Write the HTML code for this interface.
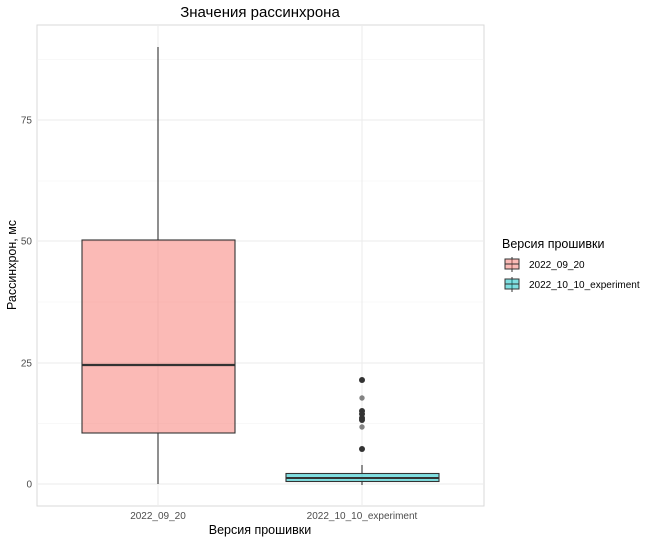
<!DOCTYPE html><html><head><style>body{margin:0;background:#fff}</style></head><body>
<svg width="650" height="541" xmlns="http://www.w3.org/2000/svg" font-family="Liberation Sans, DejaVu Sans, sans-serif">
<rect x="37" y="25" width="447" height="481" fill="#fff" stroke="#d9d9d9"/>
<g stroke="#f2f2f2" stroke-width="0.6">
<line x1="37" x2="484" y1="423.5" y2="423.5"/><line x1="37" x2="484" y1="302" y2="302"/><line x1="37" x2="484" y1="181" y2="181"/><line x1="37" x2="484" y1="59.5" y2="59.5"/>
</g>
<g stroke="#ebebeb" stroke-width="1">
<line x1="37" x2="484" y1="484" y2="484"/><line x1="37" x2="484" y1="363" y2="363"/><line x1="37" x2="484" y1="241" y2="241"/><line x1="37" x2="484" y1="120" y2="120"/>
<line x1="158" x2="158" y1="25" y2="506"/><line x1="362" x2="362" y1="25" y2="506"/>
</g>
<g stroke="#333" stroke-width="1.1">
<line x1="158" x2="158" y1="47" y2="240"/><line x1="158" x2="158" y1="433" y2="484"/>
<rect x="82" y="240" width="153" height="193" fill="#f8766d" fill-opacity="0.5"/>
<line x1="82" x2="235" y1="365" y2="365" stroke-width="2.2"/>
<line x1="362" x2="362" y1="465" y2="473"/><line x1="362" x2="362" y1="481" y2="485"/>
<rect x="286" y="473.5" width="153" height="8" fill="#00bfc4" fill-opacity="0.5"/>
<line x1="286" x2="439" y1="478" y2="478" stroke-width="2"/>
</g>
<g fill="#333">
<circle cx="362" cy="380" r="3" /><circle cx="362" cy="398" r="2.7" opacity="0.6"/><circle cx="362" cy="411" r="3"/><circle cx="362" cy="414" r="3"/><circle cx="362" cy="418" r="3"/><circle cx="362" cy="420" r="3"/><circle cx="362" cy="427" r="2.7" opacity="0.6"/><circle cx="362" cy="449" r="3"/>
</g>
<g font-size="10" fill="#4d4d4d" text-anchor="end">
<text x="32" y="487.5">0</text><text x="32" y="366.5">25</text><text x="32" y="244.5">50</text><text x="32" y="123.5">75</text>
</g>
<g font-size="10" fill="#4d4d4d" text-anchor="middle">
<text x="158" y="519">2022_09_20</text><text x="362" y="519">2022_10_10_experiment</text>
</g>
<text x="260" y="534" font-size="12.5" text-anchor="middle">Версия прошивки</text>
<text transform="translate(16,265) rotate(-90)" font-size="12.5" text-anchor="middle">Рассинхрон, мс</text>
<text x="260" y="17" font-size="15" text-anchor="middle">Значения рассинхрона</text>
<text x="502" y="248" font-size="12.5">Версия прошивки</text>
<g stroke="#333" stroke-width="1">
<line x1="512" x2="512" y1="257" y2="272"/><rect x="505" y="259" width="14" height="10" fill="#f8766d" fill-opacity="0.5"/><line x1="505" x2="519" y1="264" y2="264"/>
<line x1="512" x2="512" y1="277" y2="292"/><rect x="505" y="279" width="14" height="10" fill="#00bfc4" fill-opacity="0.5"/><line x1="505" x2="519" y1="284" y2="284"/>
</g>
<g font-size="10" fill="#000"><text x="529" y="268">2022_09_20</text><text x="529" y="288">2022_10_10_experiment</text></g>
</svg></body></html>
